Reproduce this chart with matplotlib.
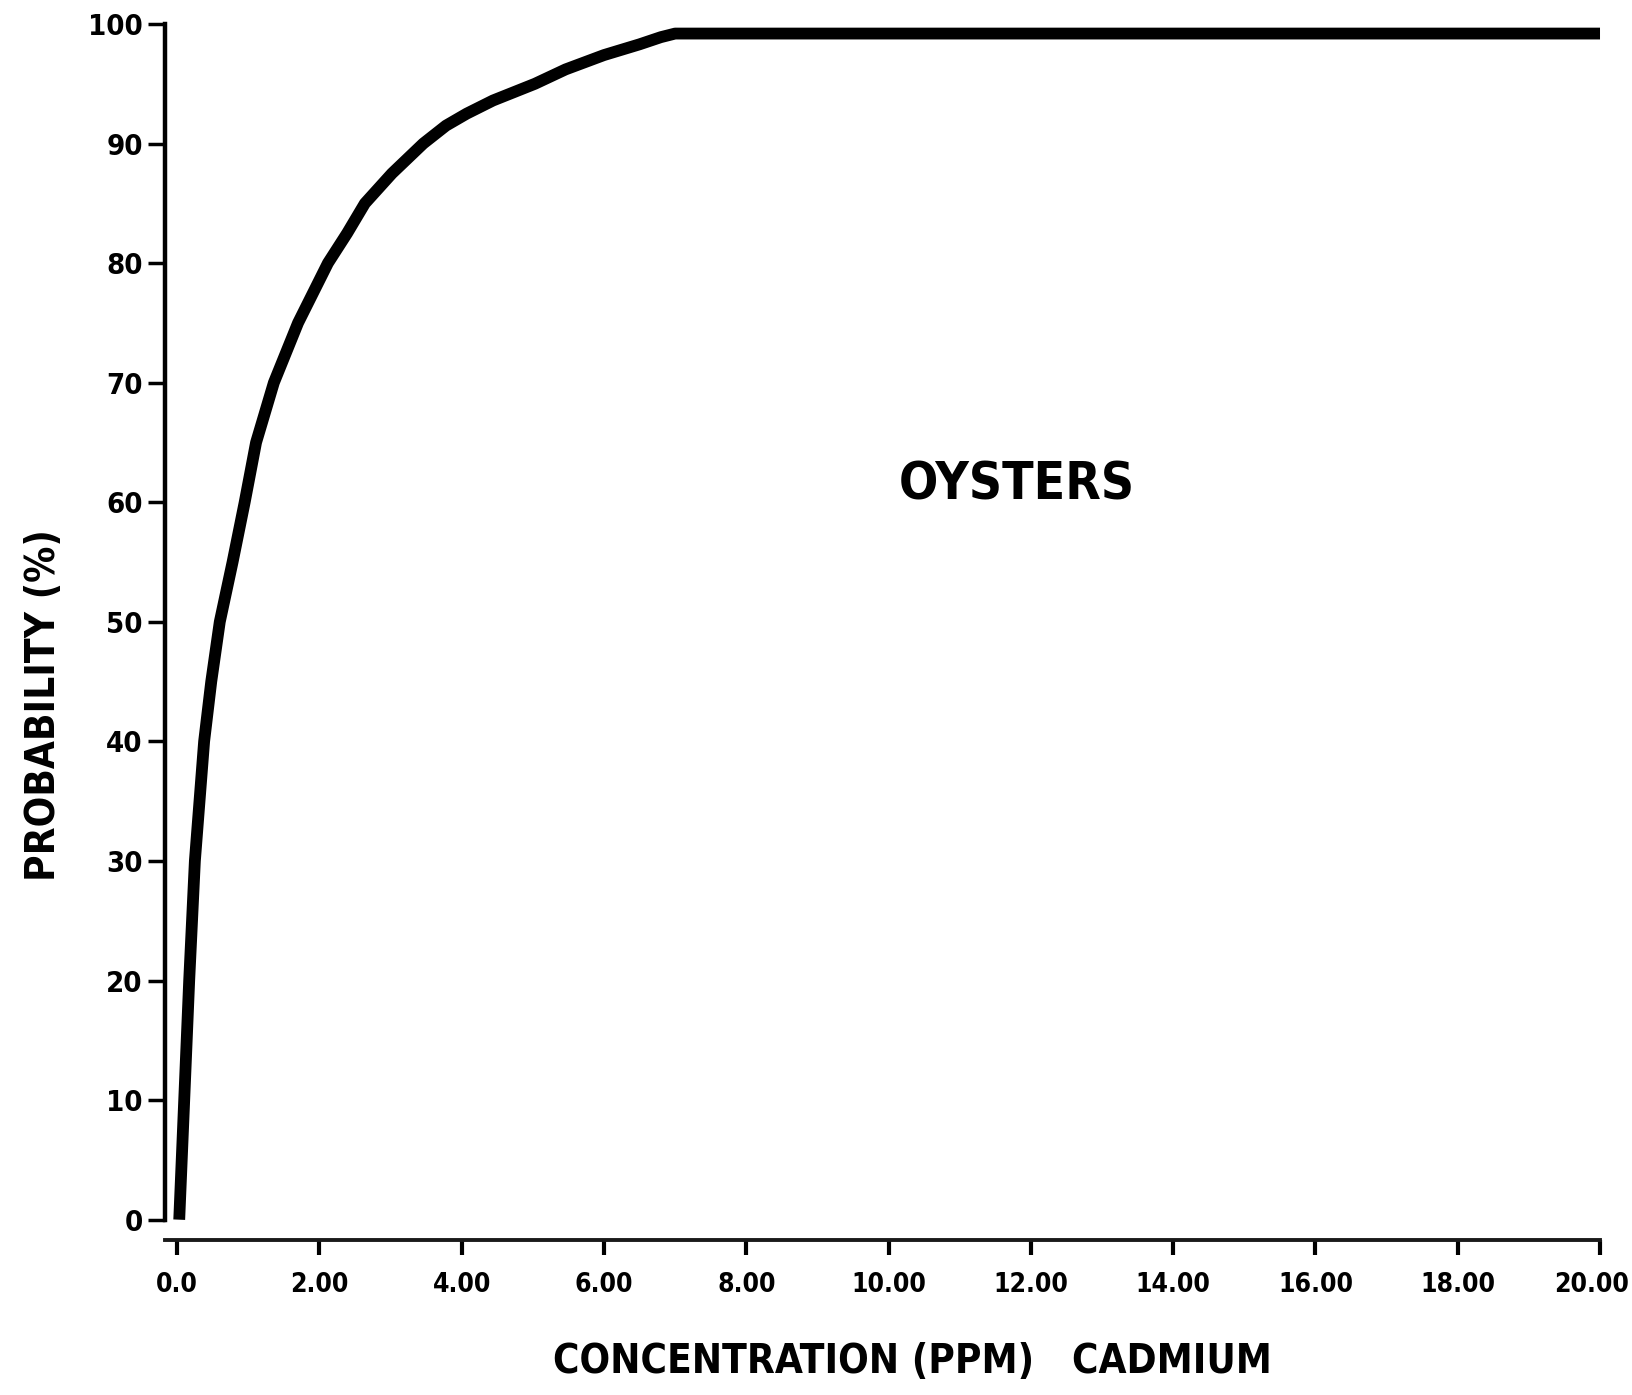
import matplotlib
matplotlib.use("Agg")
import matplotlib.pyplot as plt
import matplotlib.transforms as mtransforms

# Valores (concentracion en ppm, probabilidad en %)
concentracion = [0.03, 0.10, 0.17, 0.25, 0.38, 0.48, 0.60, 0.78, 0.95, 1.11,
                 1.36, 1.70, 2.12, 2.39, 2.64, 3.02, 3.46, 3.78, 4.07, 4.44,
                 5.03, 5.46, 6.00, 6.50, 6.80, 7.00, 20.00]
probabilidad = [0, 10, 20, 30, 40, 45, 50, 55, 60, 65,
                70, 75, 80, 82.5, 85, 87.5, 90, 91.5, 92.5, 93.6,
                95, 96.2, 97.4, 98.3, 98.9, 99.2, 99.2]

x_ticks = [0, 2, 4, 6, 8, 10, 12, 14, 16, 18, 20]
x_labels = ["0.0", "2.00", "4.00", "6.00", "8.00", "10.00",
            "12.00", "14.00", "16.00", "18.00", "20.00"]
y_ticks = [0, 10, 20, 30, 40, 50, 60, 70, 80, 90, 100]

# fuente condensada y negrita, parecida a la del original
plt.rcParams['font.family'] = ['DejaVu Sans']
plt.rcParams['font.stretch'] = 'condensed'
plt.rcParams['font.weight'] = 'bold'

fig = plt.figure(figsize=(16.32, 13.95), dpi=100)
ax = fig.add_axes([0.1011, 0.1111, 0.8793, 0.8717])

ax.plot(concentracion, probabilidad, color='black', lw=8.5,
        solid_capstyle='butt', solid_joinstyle='round', clip_on=False)

ax.set_xlim(-0.17, 20)
ax.set_ylim(-1.7, 100)

# Ejes estilo original: eje Y termina en 0, eje X separado por debajo
for lado in ['top', 'right']:
    ax.spines[lado].set_visible(False)
ax.spines['left'].set_bounds(0, 100)
ax.spines['left'].set_linewidth(3.2)
ax.spines['bottom'].set_linewidth(2.8)
ax.spines['bottom'].set_color('#1a1a1a')

ax.set_xticks(x_ticks)
ax.set_xticklabels(x_labels)
ax.set_yticks(y_ticks)
ax.set_yticklabels([str(v) for v in y_ticks])

ax.tick_params(axis='y', direction='out', length=12, width=2.5, pad=4,
               labelsize=21)
ax.tick_params(axis='x', direction='out', length=11, width=3, pad=12,
               labelsize=19)

# la ultima etiqueta queda un poco a la izquierda para no salirse
ultima = ax.get_xticklabels()[-1]
ultima.set_transform(ultima.get_transform() +
                     mtransforms.ScaledTranslation(-6 / 72, 0, fig.dpi_scale_trans))

ax.set_ylabel('PROBABILITY (%)', fontsize=29, fontweight='bold',
              va='center')
ax.yaxis.set_label_coords(-0.0843, 0.44)
ax.set_xlabel('CONCENTRATION (PPM)   CADMIUM', fontsize=29,
              fontweight='bold', va='center')
ax.xaxis.set_label_coords(0.521, -0.100)

ax.text(11.8, 61.4, 'OYSTERS', fontsize=37, fontweight='bold',
        ha='center', va='center')

plt.savefig('out.png', dpi=100)
